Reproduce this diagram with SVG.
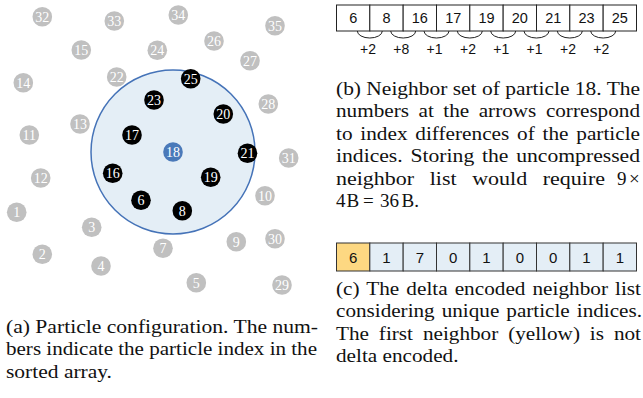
<svg xmlns="http://www.w3.org/2000/svg" width="643" height="398" viewBox="0 0 643 398">
<style>
.p circle{stroke:none}
.g circle{fill:#c0c0c0}
.k circle{fill:#000}
.b circle{fill:#4a79b9}
.p text{font-size:14px;fill:#fff;text-anchor:middle}
.cell{fill:#fff;stroke:#222;stroke-width:1}
.cb{fill:#e4eef6;stroke:#333;stroke-width:1}
.cy{fill:#fdd882;stroke:#333;stroke-width:1}
.num{font-size:14.5px;fill:#111;text-anchor:middle}
.num2{font-size:15px;fill:#111;text-anchor:middle}
.lab{font-size:14px;fill:#111;text-anchor:middle}
.arc{fill:none;stroke:#222;stroke-width:1}
.cap{font-size:19px;fill:#111}
</style>

<!-- cutoff circle -->
<g id="cutoff">
<circle cx="173" cy="152" r="82" fill="#e4eef6" stroke="#4573b8" stroke-width="1.5"/>
</g>

<!-- particles -->
<g font-family="'Liberation Serif', 'Times New Roman', Times, serif">
<g id="p32" class="p g"><circle cx="42.3" cy="16.7" r="9.8"/><text x="42.3" y="21.5">32</text></g>
<g id="p33" class="p g"><circle cx="114.3" cy="21" r="9.8"/><text x="114.3" y="25.8">33</text></g>
<g id="p34" class="p g"><circle cx="178.3" cy="15" r="9.8"/><text x="178.3" y="19.8">34</text></g>
<g id="p35" class="p g"><circle cx="275" cy="25.7" r="9.8"/><text x="275" y="30.5">35</text></g>
<g id="p15" class="p g"><circle cx="81.3" cy="50" r="9.8"/><text x="81.3" y="54.8">15</text></g>
<g id="p24" class="p g"><circle cx="157.3" cy="50.3" r="9.8"/><text x="157.3" y="55.1">24</text></g>
<g id="p26" class="p g"><circle cx="214" cy="41" r="9.8"/><text x="214" y="45.8">26</text></g>
<g id="p27" class="p g"><circle cx="250" cy="60.7" r="9.8"/><text x="250" y="65.5">27</text></g>
<g id="p14" class="p g"><circle cx="23.3" cy="82.7" r="9.8"/><text x="23.3" y="87.5">14</text></g>
<g id="p22" class="p g"><circle cx="116.7" cy="77" r="9.8"/><text x="116.7" y="81.8">22</text></g>
<g id="p28" class="p g"><circle cx="268.3" cy="104" r="9.8"/><text x="268.3" y="108.8">28</text></g>
<g id="p11" class="p g"><circle cx="29.3" cy="135" r="9.8"/><text x="29.3" y="139.8">11</text></g>
<g id="p13" class="p g"><circle cx="80" cy="124" r="9.8"/><text x="80" y="128.8">13</text></g>
<g id="p31" class="p g"><circle cx="288.7" cy="158" r="9.8"/><text x="288.7" y="162.8">31</text></g>
<g id="p12" class="p g"><circle cx="40.7" cy="178" r="9.8"/><text x="40.7" y="182.8">12</text></g>
<g id="p10" class="p g"><circle cx="265" cy="195.7" r="9.8"/><text x="265" y="200.5">10</text></g>
<g id="p1" class="p g"><circle cx="16.7" cy="212.3" r="9.8"/><text x="16.7" y="217.1">1</text></g>
<g id="p3" class="p g"><circle cx="91.7" cy="227.3" r="9.8"/><text x="91.7" y="232.1">3</text></g>
<g id="p7" class="p g"><circle cx="163" cy="248.3" r="9.8"/><text x="163" y="253.1">7</text></g>
<g id="p9" class="p g"><circle cx="236.3" cy="241.7" r="9.8"/><text x="236.3" y="246.5">9</text></g>
<g id="p30" class="p g"><circle cx="275" cy="238.7" r="9.8"/><text x="275" y="243.5">30</text></g>
<g id="p2" class="p g"><circle cx="42.3" cy="254.3" r="9.8"/><text x="42.3" y="259.1">2</text></g>
<g id="p4" class="p g"><circle cx="101" cy="266" r="9.8"/><text x="101" y="270.8">4</text></g>
<g id="p5" class="p g"><circle cx="196.3" cy="282.7" r="9.8"/><text x="196.3" y="287.5">5</text></g>
<g id="p29" class="p g"><circle cx="282" cy="285" r="9.8"/><text x="282" y="289.8">29</text></g>

<g id="p25" class="p k"><circle cx="190.7" cy="78.7" r="9.8"/><text x="190.7" y="83.5">25</text></g>
<g id="p23" class="p k"><circle cx="154" cy="100" r="9.8"/><text x="154" y="104.8">23</text></g>
<g id="p20" class="p k"><circle cx="223.3" cy="114" r="9.8"/><text x="223.3" y="118.8">20</text></g>
<g id="p17" class="p k"><circle cx="132" cy="135" r="9.8"/><text x="132" y="139.8">17</text></g>
<g id="p21" class="p k"><circle cx="247.5" cy="153.3" r="9.8"/><text x="247.5" y="158.1">21</text></g>
<g id="p16" class="p k"><circle cx="112.7" cy="173.3" r="9.8"/><text x="112.7" y="178.1">16</text></g>
<g id="p19" class="p k"><circle cx="210.7" cy="177.3" r="9.8"/><text x="210.7" y="182.1">19</text></g>
<g id="p6" class="p k"><circle cx="141" cy="200.3" r="9.8"/><text x="141" y="205.1">6</text></g>
<g id="p8" class="p k"><circle cx="182.3" cy="210.7" r="9.8"/><text x="182.3" y="215.5">8</text></g>
<g id="p18" class="p b"><circle cx="173" cy="152" r="9.8"/><text x="173" y="156.8">18</text></g>
</g>

<!-- neighbor list (b) -->
<g id="list-b" font-family="'Liberation Sans', Arial, Helvetica, sans-serif">
<rect class="cell" x="336.5" y="5" width="33.33" height="26"/>
<rect class="cell" x="369.83" y="5" width="33.33" height="26"/>
<rect class="cell" x="403.17" y="5" width="33.33" height="26"/>
<rect class="cell" x="436.5" y="5" width="33.33" height="26"/>
<rect class="cell" x="469.83" y="5" width="33.33" height="26"/>
<rect class="cell" x="503.17" y="5" width="33.33" height="26"/>
<rect class="cell" x="536.5" y="5" width="33.33" height="26"/>
<rect class="cell" x="569.83" y="5" width="33.33" height="26"/>
<rect class="cell" x="603.17" y="5" width="33.33" height="26"/>
<text class="num" x="353.2" y="23.2">6</text>
<text class="num" x="386.5" y="23.2">8</text>
<text class="num" x="419.8" y="23.2">16</text>
<text class="num" x="453.2" y="23.2">17</text>
<text class="num" x="486.5" y="23.2">19</text>
<text class="num" x="519.8" y="23.2">20</text>
<text class="num" x="553.2" y="23.2">21</text>
<text class="num" x="586.5" y="23.2">23</text>
<text class="num" x="619.8" y="23.2">25</text>
</g>

<g id="connectors" font-family="'Liberation Sans', Arial, Helvetica, sans-serif">
<path class="arc" d="M357.3 31 A12.5 7 0 0 0 382.3 31"/>
<path class="arc" d="M390.7 31 A12.5 7 0 0 0 415.7 31"/>
<path class="arc" d="M424 31 A12.5 7 0 0 0 449 31"/>
<path class="arc" d="M457.3 31 A12.5 7 0 0 0 482.3 31"/>
<path class="arc" d="M490.7 31 A12.5 7 0 0 0 515.7 31"/>
<path class="arc" d="M524 31 A12.5 7 0 0 0 549 31"/>
<path class="arc" d="M557.3 31 A12.5 7 0 0 0 582.3 31"/>
<path class="arc" d="M590.7 31 A12.5 7 0 0 0 615.7 31"/>
<text class="lab" x="368" y="53.5">+2</text>
<text class="lab" x="401.3" y="53.5">+8</text>
<text class="lab" x="434.5" y="53.5">+1</text>
<text class="lab" x="468" y="53.5">+2</text>
<text class="lab" x="501.3" y="53.5">+1</text>
<text class="lab" x="534.5" y="53.5">+1</text>
<text class="lab" x="568" y="53.5">+2</text>
<text class="lab" x="601.3" y="53.5">+2</text>
</g>

<!-- delta encoded list (c) -->
<g id="list-c" font-family="'Liberation Sans', Arial, Helvetica, sans-serif">
<rect class="cy" x="336.5" y="243" width="33.33" height="28"/>
<rect class="cb" x="369.83" y="243" width="33.33" height="28"/>
<rect class="cb" x="403.17" y="243" width="33.33" height="28"/>
<rect class="cb" x="436.5" y="243" width="33.33" height="28"/>
<rect class="cb" x="469.83" y="243" width="33.33" height="28"/>
<rect class="cb" x="503.17" y="243" width="33.33" height="28"/>
<rect class="cb" x="536.5" y="243" width="33.33" height="28"/>
<rect class="cb" x="569.83" y="243" width="33.33" height="28"/>
<rect class="cb" x="603.17" y="243" width="33.33" height="28"/>
<text class="num2" x="353.2" y="262.5">6</text>
<text class="num2" x="386.5" y="262.5">1</text>
<text class="num2" x="419.8" y="262.5">7</text>
<text class="num2" x="453.2" y="262.5">0</text>
<text class="num2" x="486.5" y="262.5">1</text>
<text class="num2" x="519.8" y="262.5">0</text>
<text class="num2" x="553.2" y="262.5">0</text>
<text class="num2" x="586.5" y="262.5">1</text>
<text class="num2" x="619.8" y="262.5">1</text>
</g>

<!-- captions -->
<g id="caption-a" class="cap" font-family="'Liberation Serif', 'Times New Roman', Times, serif">
<text x="6" y="332.5" textLength="312" lengthAdjust="spacingAndGlyphs">(a) Particle configuration. The num-</text>
<text x="6" y="355" textLength="311" lengthAdjust="spacingAndGlyphs">bers indicate the particle index in the</text>
<text x="6" y="377.5" textLength="106" lengthAdjust="spacingAndGlyphs">sorted array.</text>
</g>

<g id="caption-b" class="cap" font-family="'Liberation Serif', 'Times New Roman', Times, serif">
<text x="336" y="95" textLength="304" lengthAdjust="spacingAndGlyphs">(b) Neighbor set of particle 18. The</text>
<text x="336" y="117.4" textLength="304" lengthAdjust="spacingAndGlyphs" word-spacing="3.8">numbers at the arrows correspond</text>
<text x="336" y="139.8" textLength="304" lengthAdjust="spacingAndGlyphs" word-spacing="2.2">to index differences of the particle</text>
<text x="336" y="162.2" textLength="304" lengthAdjust="spacingAndGlyphs" word-spacing="2.1">indices. Storing the uncompressed</text>
<text x="336" y="184.6" textLength="269" lengthAdjust="spacingAndGlyphs" word-spacing="8.7">neighbor list would require</text>
<text x="617" y="184.6">9</text>
<text x="629" y="184.6">×</text>
<text y="207"><tspan x="336">4</tspan><tspan x="346.5">B</tspan><tspan x="363">=</tspan><tspan x="380">36</tspan><tspan x="401.5">B.</tspan></text>
</g>

<g id="caption-c" class="cap" font-family="'Liberation Serif', 'Times New Roman', Times, serif">
<text x="336" y="294.5" textLength="305" lengthAdjust="spacingAndGlyphs" word-spacing="1.6">(c) The delta encoded neighbor list</text>
<text x="336" y="317" textLength="306" lengthAdjust="spacingAndGlyphs" word-spacing="1.6">considering unique particle indices.</text>
<text x="336" y="339.5" textLength="305" lengthAdjust="spacingAndGlyphs" word-spacing="4.1">The first neighbor (yellow) is not</text>
<text x="336" y="362" textLength="122.5" lengthAdjust="spacingAndGlyphs">delta encoded.</text>
</g>
</svg>
